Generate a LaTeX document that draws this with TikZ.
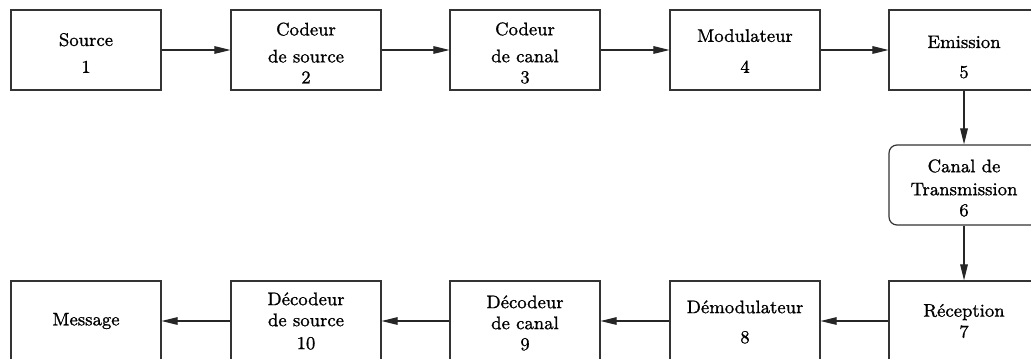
\documentclass[tikz,border=0pt]{standalone}
\usepackage{fontspec}
\setmainfont{Latin Modern Roman}[FakeBold=1.0]
\usetikzlibrary{arrows.meta}
\begin{document}
\begin{tikzpicture}[x=0.5pt,y=-0.5pt,
  blk/.style={draw=black!80,line width=0.6pt,minimum width=75pt,minimum height=40pt,
    inner sep=0pt},
  rblk/.style={blk,rounded corners=4pt},
  lbl/.style={align=center,inner sep=0pt,font=\fontsize{9.1}{11}\selectfont},
  arr/.style={draw=black!85,line width=0.55pt,-{Triangle[length=8pt,width=3.8pt]}}]
\useasboundingbox (0,0) rectangle (1031,358);
% top row
\node[blk,label={[lbl,yshift=-1.5pt]center:Source\\[2.5pt]1}] (n1) at (86,50) {};
\node[blk,label={[lbl,yshift=-1.5pt]center:Codeur\\[2.5pt]de source\\[-0.5pt]2}] (n2) at (306,50) {};
\node[blk,label={[lbl,yshift=-1.5pt]center:Codeur\\[2.5pt]de canal\\[-0.5pt]3}] (n3) at (525,50) {};
\node[blk,label={[lbl,yshift=-0.5pt]center:Modulateur\\[4.5pt]4}] (n4) at (745,50) {};
\node[blk,label={[lbl,yshift=-3.5pt]center:Emission\\[4pt]5}] (n5) at (964,50) {};
% channel
\node[rblk,label={[lbl,yshift=-1.5pt]center:Canal de\\[0.5pt]Transmission\\[-0.5pt]6}] (n6) at (964,185) {};
% bottom row
\node[blk,label={[lbl]center:R\'eception\\[-0.5pt]7}] (n7) at (964,321) {};
\node[blk,label={[lbl,yshift=-0.5pt]center:D\'emodulateur\\[4pt]8}] (n8) at (745,321) {};
\node[blk,label={[lbl,yshift=-1pt]center:D\'ecodeur\\[-0.5pt]de canal\\[-0.5pt]9}] (n9) at (525,321) {};
\node[blk,label={[lbl]center:D\'ecodeur\\[-0.5pt]de source\\[0.5pt]10}] (n10) at (306,321) {};
\node[blk,label={[lbl]center:Message}] (n11) at (86,321) {};
% connectors
\draw[arr] (n1) -- (n2);
\draw[arr] (n2) -- (n3);
\draw[arr] (n3) -- (n4);
\draw[arr] (n4) -- (n5);
\draw[arr] (n5) -- (n6);
\draw[arr] (n6) -- (n7);
\draw[arr] (n7) -- (n8);
\draw[arr] (n8) -- (n9);
\draw[arr] (n9) -- (n10);
\draw[arr] (n10) -- (n11);
\end{tikzpicture}
\end{document}
